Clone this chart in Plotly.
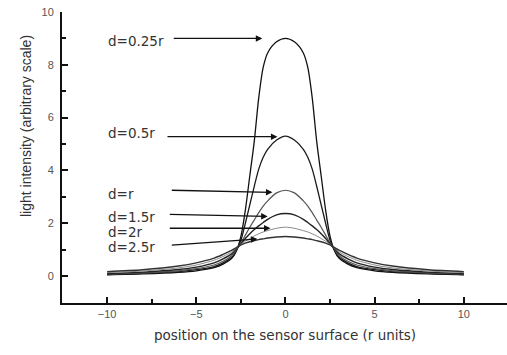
import plotly.graph_objects as go

# ---- data ----
x_pos = [-10, -8, -6, -5, -4, -3.5, -3, -2.75, -2.5, -2.25, -2, -1.75, -1.5, -1.25, -1, -0.5, 0,
         0.5, 1, 1.25, 1.5, 1.75, 2, 2.25, 2.5, 2.75, 3, 3.5, 4, 5, 6, 8, 10]

i_d025 = [0.05, 0.08, 0.14, 0.2, 0.32, 0.45, 0.68, 0.95, 1.5, 2.5, 3.8, 5.1, 6.75, 7.9, 8.45, 8.87, 9.0,
          8.87, 8.45, 7.9, 6.75, 5.1, 3.8, 2.5, 1.5, 0.95, 0.68, 0.45, 0.32, 0.2, 0.14, 0.08, 0.05]
i_d05 = [0.06, 0.1, 0.17, 0.24, 0.36, 0.5, 0.72, 0.98, 1.35, 2.0, 2.7, 3.4, 4.05, 4.5, 4.8, 5.15, 5.3,
         5.15, 4.8, 4.5, 4.05, 3.4, 2.7, 2.0, 1.35, 0.98, 0.72, 0.5, 0.36, 0.24, 0.17, 0.1, 0.06]
i_d1 = [0.08, 0.12, 0.2, 0.28, 0.42, 0.56, 0.78, 1.0, 1.25, 1.55, 1.85, 2.12, 2.4, 2.65, 2.85, 3.15, 3.25,
        3.15, 2.85, 2.65, 2.4, 2.12, 1.85, 1.55, 1.25, 1.0, 0.78, 0.56, 0.42, 0.28, 0.2, 0.12, 0.08]
i_d15 = [0.1, 0.15, 0.25, 0.34, 0.5, 0.65, 0.85, 1.03, 1.22, 1.42, 1.6, 1.76, 1.9, 2.03, 2.15, 2.32, 2.37,
         2.32, 2.15, 2.03, 1.9, 1.76, 1.6, 1.42, 1.22, 1.03, 0.85, 0.65, 0.5, 0.34, 0.25, 0.15, 0.1]
i_d2 = [0.13, 0.19, 0.31, 0.42, 0.6, 0.74, 0.92, 1.06, 1.2, 1.32, 1.42, 1.52, 1.6, 1.67, 1.72, 1.81, 1.85,
        1.81, 1.72, 1.67, 1.6, 1.52, 1.42, 1.32, 1.2, 1.06, 0.92, 0.74, 0.6, 0.42, 0.31, 0.19, 0.13]
i_d25 = [0.17, 0.24, 0.38, 0.5, 0.68, 0.82, 0.98, 1.08, 1.18, 1.25, 1.3, 1.34, 1.38, 1.41, 1.44, 1.48, 1.5,
         1.48, 1.44, 1.41, 1.38, 1.34, 1.3, 1.25, 1.18, 1.08, 0.98, 0.82, 0.68, 0.5, 0.38, 0.24, 0.17]

labels = ["d=0.25r", "d=0.5r", "d=r", "d=1.5r", "d=2r", "d=2.5r"]
series = [i_d025, i_d05, i_d1, i_d15, i_d2, i_d25]
# arrow heads / tails (data coords) and label heights
arrow_head_x = [-1.3, -0.45, -0.73, -1.0, -0.84, -1.57]
arrow_head_y = [9.0, 5.28, 3.17, 2.26, 1.81, 1.40]
arrow_tail_x = [-6.35, -6.7, -6.46, -6.57, -6.57, -6.46]
arrow_tail_y = [9.0, 5.28, 3.25, 2.34, 1.81, 1.17]
label_y = [8.9, 5.43, 3.1, 2.23, 1.66, 1.1]

ytick_vals = [0, 2, 4, 6, 8, 10]
xtick_vals = [-10, -5, 0, 5, 10]

colors = ["#111111", "#1a1a1a", "#555555", "#222222", "#888888", "#333333"]
widths = [1.3, 1.3, 1.2, 1.4, 1.0, 1.4]

FONT = "Liberation Sans, Arial, sans-serif"
WFONT = "DejaVu Sans, sans-serif"

fig = go.Figure()
for lab, ys, c, w in zip(labels, series, colors, widths):
    fig.add_trace(go.Scatter(x=x_pos, y=ys, mode="lines", name=lab,
                             line=dict(color=c, width=w, shape="spline", smoothing=0.8),
                             showlegend=False, hoverinfo="skip"))

annotations = []
for lab, hx, hy, tx, ty, ly in zip(labels, arrow_head_x, arrow_head_y, arrow_tail_x, arrow_tail_y, label_y):
    annotations.append(dict(x=hx, y=hy, ax=tx, ay=ty, xref="x", yref="y", axref="x", ayref="y",
                            text="", showarrow=True, arrowhead=2, arrowsize=1.0, arrowwidth=1.3,
                            arrowcolor="#111111", standoff=0, startstandoff=0))
    annotations.append(dict(x=-10.05, y=ly, xref="x", yref="y", text=lab, showarrow=False,
                            xanchor="left", yanchor="middle",
                            font=dict(family=WFONT, size=13.5, color="#333333")))

W, H = 507, 355
L, R, T, B = 62, 0, 12, 52
pw, ph = W - L - R, H - T - B

annotations.append(dict(x=(16 - L) / pw, y=(H - B - 126) / ph, xref="paper", yref="paper",
                        text="light intensity (arbitrary scale)", showarrow=False, textangle=-90,
                        font=dict(family=FONT, size=14, color="#333333")))
annotations.append(dict(x=(285 - L) / pw, y=(H - B - 345) / ph, xref="paper", yref="paper",
                        text="position on the sensor surface (r units)", showarrow=False,
                        font=dict(family=WFONT, size=13.5, color="#333333")))

fig.update_layout(
    width=W, height=H,
    margin=dict(l=L, r=R, t=T, b=B),
    paper_bgcolor="white", plot_bgcolor="white",
    annotations=annotations,
    font=dict(family=FONT),
)
fig.update_xaxes(range=[-12.53, 12.42], tickvals=xtick_vals, ticks="inside", ticklen=6, tickwidth=1.5,
                 tickcolor="#111", showline=True, linecolor="#111", linewidth=2, showgrid=False,
                 zeroline=False, tickfont=dict(family=FONT, size=11, color="#555"),
                 minor=dict(tickvals=[-7.5, -2.5, 2.5, 7.5], ticks="inside", ticklen=4, tickcolor="#111"))
fig.update_yaxes(range=[-1.02, 10.0], tickvals=ytick_vals, ticks="inside", ticklen=6, tickwidth=1.5,
                 tickcolor="#111", showline=True, linecolor="#111", linewidth=2, showgrid=False,
                 zeroline=False, tickfont=dict(family=FONT, size=11, color="#555"),
                 ticklabelstandoff=4,
                 minor=dict(tickvals=[1, 3, 5, 7, 9], ticks="inside", ticklen=4, tickcolor="#111"))

fig.write_html("out.html")
